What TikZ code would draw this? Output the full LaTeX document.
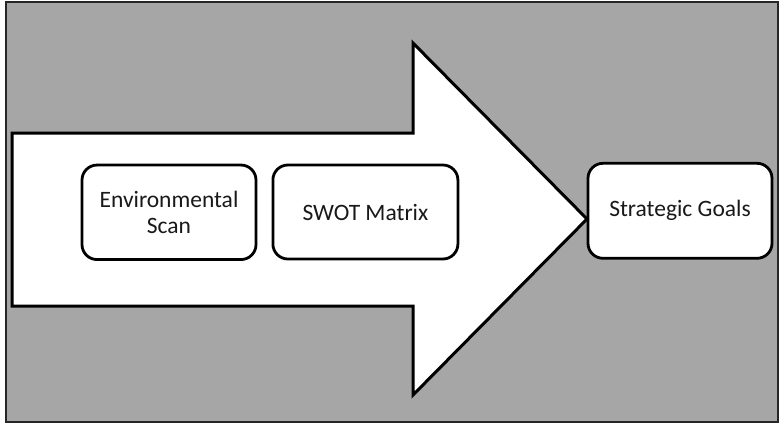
\documentclass[tikz,border=0pt]{standalone}
\usepackage{fontspec}
\setmainfont{Carlito}
\definecolor{bggray}{HTML}{A6A6A6}
\begin{document}
\begin{tikzpicture}[x=1pt,y=-1pt,
  stagebox/.style={draw=black,line width=2.8pt,fill=white,rounded corners=15pt,
    align=center,font=\fontsize{23.5}{26}\selectfont,inner sep=0pt,text=black!90},
  bigarrow/.style={draw=black,line width=3pt,fill=white,line join=miter}]
\useasboundingbox (0,0) rectangle (781,424);
\draw[fill=bggray,draw=black!85,line width=1.4pt] (6,2) rectangle (778,422);
\draw[bigarrow] (12,133) -- (413,133) -- (413,43) -- (587,219) -- (413,395) -- (413,306) -- (12,306) -- cycle;
\node[stagebox,minimum width=174pt,minimum height=94.5pt] (env) at (169,212.3) {Environmental\\Scan};
\node[stagebox,minimum width=185pt,minimum height=94pt] (swot) at (365.4,212) {SWOT Matrix};
\node[stagebox,minimum width=184pt,minimum height=95pt] (goals) at (680,210.8) {Strategic Goals};
\end{tikzpicture}
\end{document}
